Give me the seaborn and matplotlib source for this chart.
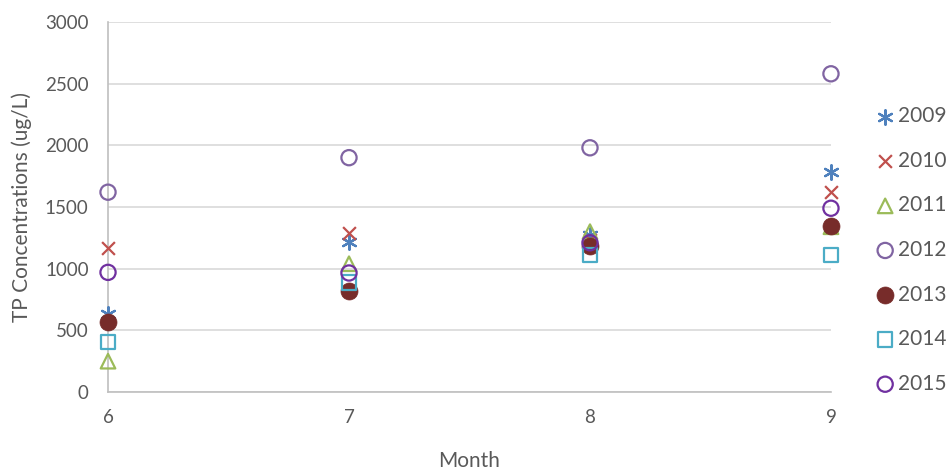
"""Concentraciones de TP por mes (2009-2015)."""

import matplotlib
matplotlib.use("Agg")

import matplotlib.pyplot as plt
import pandas as pd
import seaborn as sns

months = [6, 7, 8, 9]
years = ["2009", "2010", "2011", "2012", "2013", "2014", "2015"]

tp_2009 = [630, 1220, 1270, 1780]
tp_2010 = [1170, 1290, 1230, 1620]
tp_2011 = [250, 1040, 1300, 1340]
tp_2012 = [1620, 1900, 1980, 2580]
tp_2013 = [570, 815, 1185, 1350]
tp_2014 = [405, 890, 1110, 1110]
tp_2015 = [970, 965, 1210, 1490]

series = [tp_2009, tp_2010, tp_2011, tp_2012, tp_2013, tp_2014, tp_2015]

# estilo por serie: (marker, color, relleno, tamano)
styles = {
    "2009": ((6, 2, 0), "#4F81BD", False, 110),
    "2010": ("x", "#C0504D", False, 85),
    "2011": ("^", "#9BBB59", True, 110),
    "2012": ("o", "#8064A2", True, 120),
    "2013": ("o", "#772C2A", "full", 150),
    "2014": ("s", "#4BACC6", True, 110),
    "2015": ("o", "#7030A0", True, 120),
}

df = pd.concat(
    [pd.DataFrame({"Month": months, "TP": vals, "Year": yr}) for yr, vals in zip(years, series)],
    ignore_index=True,
)

sns.set_style("white")
plt.rcParams["font.family"] = ["Lato", "DejaVu Sans"]

fig = plt.figure(figsize=(9.5, 4.71), dpi=100)
ax = fig.add_axes([0.1137, 0.1677, 0.7610, 0.7856])

for yr in years:
    marker, color, filled, size = styles[yr]
    sub = df[df["Year"] == yr]
    if filled == "full":
        kw = dict(color=color, edgecolor=color, linewidth=0.5)
    elif filled:
        kw = dict(facecolor="none", edgecolor=color, linewidth=1.6)
    else:
        kw = dict(color=color, linewidth=1.6)
    sns.scatterplot(data=sub, x="Month", y="TP", marker=marker, s=size,
                    label=yr, ax=ax, clip_on=False, zorder=3, **kw)

ax.set_xlim(6, 9)
ax.set_ylim(0, 3000)
ax.set_xticks(months)
ax.set_yticks(range(0, 3001, 500))
ax.grid(True, axis="y", color="#D9D9D9", linewidth=1.2)
ax.set_axisbelow(True)
for side in ["top", "right"]:
    ax.spines[side].set_visible(False)
ax.spines["left"].set_color("#BFBFBF")
ax.spines["bottom"].set_color("#BFBFBF")
ax.spines["left"].set_linewidth(1.2)
ax.spines["bottom"].set_linewidth(1.2)
ax.tick_params(axis="both", length=0, labelsize=13.5, colors="#595959", pad=12)
ax.tick_params(axis="y", pad=14)

ax.set_xlabel("Month", fontsize=15, color="#595959", labelpad=18)
ax.set_ylabel("TP Concentrations (ug/L)", fontsize=15, color="#595959", labelpad=9)

ax.legend(loc="center left", bbox_to_anchor=(1.062, 0.384), frameon=False,
          fontsize=15, labelcolor="#595959", labelspacing=1.18,
          handletextpad=0.15, handlelength=0.9, borderpad=0, borderaxespad=0)

fig.savefig("out.png", dpi=100)
plt.close(fig)
